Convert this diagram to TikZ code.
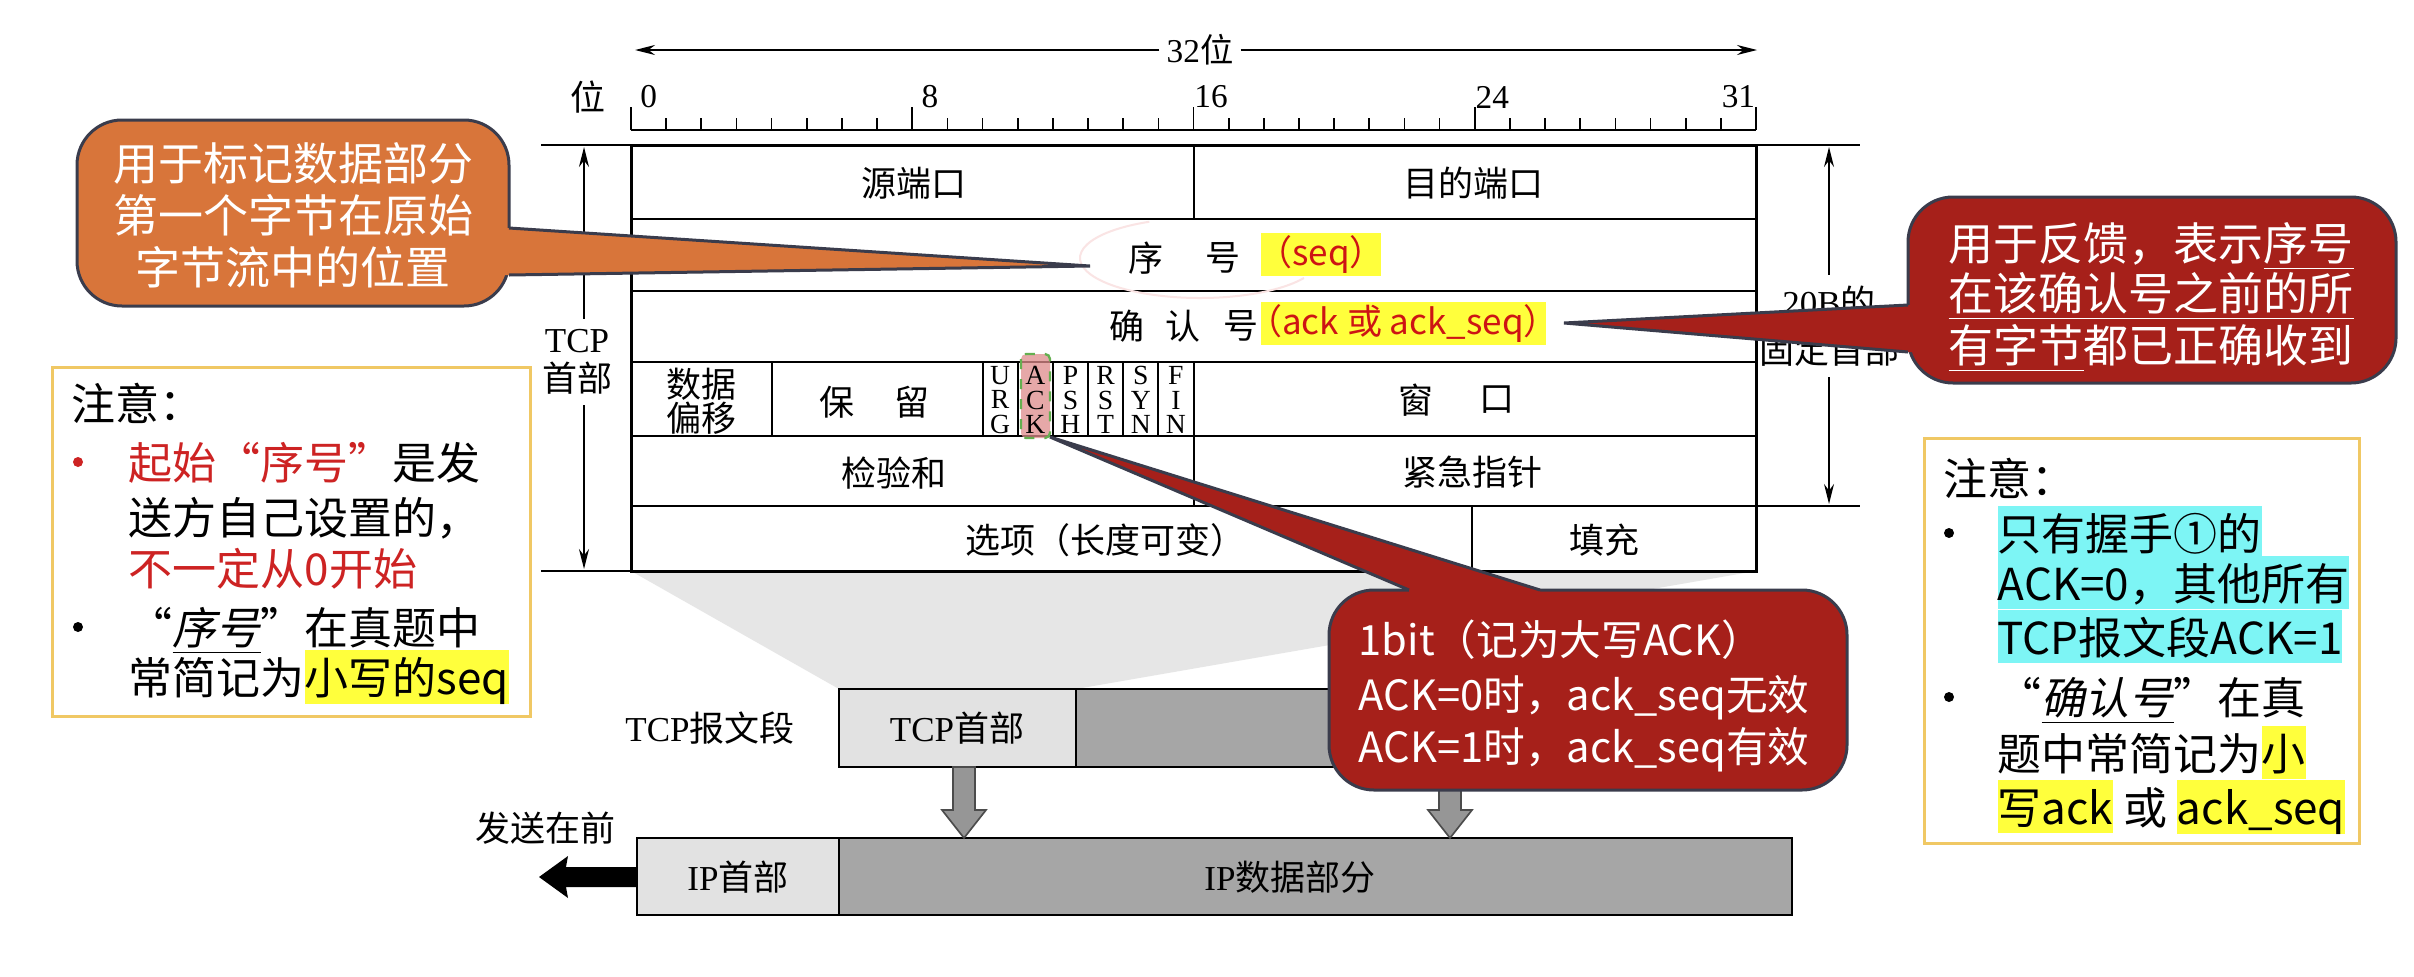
\documentclass[tikz,border=0pt]{standalone}
\usepackage{fontspec}
\setmainfont{Liberation Serif}
\newfontfamily\cjk{Noto Sans CJK SC}
\newfontfamily\cjkit{Noto Sans CJK SC}[FakeSlant=0.2]
\usetikzlibrary{arrows.meta}
\definecolor{calor}{RGB}{216,117,58}
\definecolor{calred}{RGB}{166,32,26}
\definecolor{calbd}{RGB}{58,60,76}
\definecolor{notered}{RGB}{205,35,35}
\definecolor{hly}{RGB}{255,255,60}
\definecolor{hlc}{RGB}{125,245,245}
\definecolor{notebd}{RGB}{240,200,100}
\definecolor{lightg}{RGB}{230,230,230}
\definecolor{boxlg}{RGB}{226,226,226}
\definecolor{midg}{RGB}{166,166,166}
\definecolor{arrg}{RGB}{150,150,150}
\definecolor{seqred}{RGB}{205,20,20}
\definecolor{ackfill}{RGB}{222,140,140}
\definecolor{ackdash}{RGB}{100,175,80}
\definecolor{faintpink}{RGB}{250,228,228}
\newcommand\hstrut{\rule[-2.8pt]{0pt}{16.1pt}}
\newcommand\hlY[1]{{\setlength{\fboxsep}{0pt}\colorbox{hly}{\hstrut #1}}}
\newcommand\hlC[1]{{\setlength{\fboxsep}{0pt}\colorbox{hlc}{\hstrut #1}}}
\newcommand\fq[1]{{\addfontfeatures{RawFeature=+fwid}#1}}
\tikzset{
  tcj/.style={font=\cjk\fontsize{10.5}{12}\selectfont, inner sep=0pt},
  tser/.style={font=\fontsize{10}{12}\selectfont, inner sep=0pt},
  flagtxt/.style={font=\fontsize{8.3}{7.3}\selectfont, align=center, inner sep=0pt},
  dimarrow/.style={-{Stealth[length=6pt,width=3pt]}, line width=0.5pt},
  thin line/.style={line width=0.6pt},
  outer line/.style={line width=0.9pt},
  nt/.style={font=\cjk\fontsize{13.2}{16.5}\selectfont, anchor=base west, inner sep=0pt},
  ct/.style={font=\cjk\fontsize{13.5}{15.5}\selectfont, text=white, inner sep=0pt},
  ctb/.style={font=\cjk\fontsize{12.5}{15}\selectfont, text=white, inner sep=0pt, anchor=base west},
  callbd/.style={draw=calbd, line width=0.9pt},
  notebox/.style={draw=notebd, line width=0.9pt, fill=white},
  bigdown/.style={fill=arrg, draw=black!70, line width=0.5pt},
  pktbox/.style={draw=black, line width=0.8pt},
}
\begin{document}
\begin{tikzpicture}[x=0.3pt,y=-0.3pt]
\useasboundingbox (0,0) rectangle (2414,976);
\fill[white] (0,0) rectangle (2414,976);

% projection wedge
\fill[lightg] (631,571) -- (1756,571) -- (1076,689) -- (839,689) -- cycle;

% 32 bit arrow
\node[tser, inner sep=2pt] (w32) at (1200,50) {32{\cjk 位}};
\coordinate (aL) at (635,50);
\coordinate (aR) at (1757,50);
\draw[dimarrow] (w32.west) -- (aL);
\draw[dimarrow] (w32.east) -- (aR);

% ruler
\node[tcj] (wei) at (588,97) {位};
\foreach \i/\lab in {0/0,8/8,16/16,24/24,31/31}
  \node[tser] (r\i) at ({631+(\i+0.5)*35.156},97) {\lab};
\draw[thin line] (631,130) -- (1756,130);
\foreach \i in {0,...,32}
  \draw[line width=0.5pt] ({631+\i*35.156},130) -- ({631+\i*35.156},118);
\foreach \i in {0,8,16,24,32}
  \draw[line width=0.5pt] ({631+\i*35.156},130) -- ({631+\i*35.156},107);

% table
\foreach \y in {219,291,362,436,506}
  \draw[thin line] (631,\y) -- (1756,\y);
\draw[thin line] (1193.5,145) -- (1193.5,219);
\draw[thin line] (1193.5,362) -- (1193.5,506);
\foreach \i in {4,10,11,12,13,14,15}
  \draw[thin line] ({631+\i*35.156},362) -- ({631+\i*35.156},436);
\draw[thin line] (1472.2,506) -- (1472.2,571);
\draw[outer line] (631,145) rectangle (1756,571);

% ACK highlight
\fill[ackfill, opacity=0.75, rounded corners=1.5pt] (1021,354) rectangle (1050,438);
\draw[ackdash, dashed, line width=0.7pt, rounded corners=1.5pt] (1021,354) rectangle (1050,438);

% faint mark
\draw[faintpink, line width=0.6pt] (1200,258) ++({120*cos(245)},{40*sin(245)}) arc[start angle=245, end angle=30, x radius=120, y radius=40];

% table texts
\node[tcj] (src) at (914,183) {源端口};
\node[tcj] (dst) at (1473,183) {目的端口};
\node[tcj] (xu) at (1146,258) {序};
\node[tcj] (hao1) at (1223,258) {号};
\fill[hly] (1261,233) rectangle (1381,276);
\node[tcj, text=seqred] (seqt) at (1321,255) {（seq）};
\node[tcj] (que) at (1127,326) {确};
\node[tcj] (ren) at (1183,326) {认};
\node[tcj] (hao2) at (1241,326) {号};
\fill[hly] (1261,302) rectangle (1546,345);
\node[tcj, text=seqred] (ackt) at (1403,324) {（ack 或 ack\_seq）};
\node[tcj, font=\cjk\fontsize{10.5}{10.2}\selectfont, align=center] (off) at (701,401) {数据\\偏移};
\node[tcj] (res1) at (837,402) {保};
\node[tcj] (res2) at (912,402) {留};
\foreach \i/\t/\n in {10/U\\R\\G/urg,11/A\\C\\K/ack,12/P\\S\\H/psh,13/R\\S\\T/rst,14/S\\Y\\N/syn,15/F\\I\\N/fin}
  \node[flagtxt] (\n) at ({631+(\i+0.5)*35.156},400) {\t};
\node[tcj] (win1) at (1416,400) {窗};
\node[tcj] (win2) at (1497,400) {口};
\node[tcj] (chk) at (894,473) {检验和};
\node[tcj] (urgp) at (1472,472) {紧急指针};
\node[tcj] (opt) at (1105,540) {选项（长度可变）};
\node[tcj] (pad) at (1604,540) {填充};

% dimension lines
\draw[line width=0.5pt] (541,145) -- (631,145);
\draw[line width=0.5pt] (541,571) -- (631,571);
\draw[line width=0.5pt] (1756,145) -- (1860,145);
\draw[line width=0.5pt] (1756,506) -- (1860,506);
\coordinate (lt) at (584,147);
\coordinate (lb) at (584,569);
\node[tser, font=\fontsize{10.5}{11.8}\selectfont, align=center, inner sep=3pt] (tcph) at (577,362) {TCP\\{\cjk 首部}};
\draw[dimarrow] (tcph.north -| lt) -- (lt);
\draw[dimarrow] (tcph.south -| lb) -- (lb);
\coordinate (rt) at (1829,147);
\coordinate (rb) at (1829,504);
\node[tser, font=\fontsize{10.5}{14.5}\selectfont, align=center, inner sep=3pt] (fixh) at (1829,326) {20B{\cjk 的}\\{\cjk 固定首部}};
\draw[dimarrow] (fixh.north -| rt) -- (rt);
\draw[dimarrow] (fixh.south -| rb) -- (rb);

% TCP segment and IP datagram
\node[tser, font=\fontsize{10.5}{12}\selectfont] (tcpseg) at (710,728) {TCP{\cjk 报文段}};
\draw[pktbox, fill=boxlg] (839,689) rectangle (1076,767);
\draw[pktbox, fill=midg] (1076,689) rectangle (1792,767);
\node[tser, font=\fontsize{10.5}{12}\selectfont] (tcphd) at (957,728) {TCP{\cjk 首部}};
\draw[pktbox, fill=boxlg] (637,838) rectangle (839,915);
\draw[pktbox, fill=midg] (839,838) rectangle (1792,915);
\node[tser, font=\fontsize{10.5}{12}\selectfont] (iphd) at (738,877) {IP{\cjk 首部}};
\node[tser, font=\fontsize{10.5}{12}\selectfont] (ipdata) at (1290,877) {IP{\cjk 数据部分}};
\node[tcj] (sendfirst) at (545,828) {发送在前};
\coordinate (d1b) at (964,838);
\coordinate (d2b) at (1450,838);
\draw[bigdown] (953,767) -- ++(0,43) -- ++(-11,0) -- (d1b) -- ++(22,-28) -- ++(-11,0) -- ++(0,-43) -- cycle;
\draw[bigdown] (1439,767) -- ++(0,43) -- ++(-11,0) -- (d2b) -- ++(22,-28) -- ++(-11,0) -- ++(0,-43) -- cycle;
\coordinate (sndtip) at (539,877);
\fill[black] (637,867) -- (566,867) -- (568,856) -- (sndtip) -- (568,898) -- (566,887) -- (637,887) -- cycle;

% note boxes
\draw[notebox] (52,367) rectangle (530,716);
\node[nt] (n1a) at (71,420) {注意：};
\fill[notered] (78,462) circle (1.5pt);
\node[nt] (n1b) at (128,479) {\textcolor{notered}{起始\fq{“}序号\fq{”}}是发};
\node[nt] (n1c) at (128,534) {送方自己设置的，};
\node[nt] (n1d) at (128,585) {\textcolor{notered}{不一定从0开始}};
\fill[black] (78,627) circle (1.5pt);
\node[nt] (n1e) at (128,644) {\fq{“}\underline{{\cjkit 序号}}\fq{”}在真题中};
\node[nt] (n1f) at (128,694) {常简记为\hlY{小写的seq}};

\draw[notebox] (1924,438) rectangle (2359,843);
\node[nt] (n2a) at (1943,495) {注意：};
\fill[black] (1949,533) circle (1.5pt);
\node[nt] (n2b) at (1997,550) {\hlC{只有\underline{握手①}的}};
\node[nt] (n2c) at (1997,600) {\hlC{ACK=0，其他所有}};
\node[nt] (n2d) at (1997,654) {\hlC{TCP报文段ACK=1}};
\fill[black] (1949,697) circle (1.5pt);
\node[nt] (n2e) at (1997,714) {\fq{“}\underline{{\cjkit 确认号}}\fq{”}在真};
\node[nt] (n2f) at (1997,770) {题中常简记为\hlY{小}};
\node[nt] (n2g) at (1997,824) {\hlY{写ack} 或 \hlY{ack\_seq}};

% orange callout
\coordinate (otip) at (1090,266);
\draw[callbd, fill=calor, rounded corners=13.5pt] (77,120) rectangle (509,306);
\fill[calor] (495,228) -- (509,228) -- (otip) -- (509,275) -- (495,275) -- cycle;
\draw[callbd] (509,228) -- (otip) -- (509,275);
\node[ct, anchor=base] (o1) at (293,180) {用于标记数据部分};
\node[ct, anchor=base] (o2) at (293,232) {第一个字节在原始};
\node[ct, anchor=base] (o3) at (293,284) {字节流中的位置};

% right red callout
\coordinate (rtip) at (1564,323);
\draw[callbd, fill=calred, rounded corners=13.5pt] (1908,197) rectangle (2396,383);
\fill[calred] (1922,305) -- (1908,305) -- (rtip) -- (1908,352) -- (1922,352) -- cycle;
\draw[callbd] (1908,305) -- (rtip) -- (1908,352);
\node[ct, anchor=base west] (r1) at (1948,260) {用于反馈，表示\underline{序号}};
\node[ct, anchor=base west] (r2) at (1948,310) {\underline{在该确认号之前的所}};
\node[ct, anchor=base west] (r3) at (1948,362) {\underline{有字节}都已正确收到};

% bottom red callout
\coordinate (btip) at (1050,437);
\draw[callbd, fill=calred, rounded corners=13.5pt] (1329,590) rectangle (1847,790);
\fill[calred] (1409,604) -- (1409,590) -- (btip) -- (1540,590) -- (1540,604) -- cycle;
\draw[callbd] (1409,590) -- (btip) -- (1540,590);
\node[ctb] (b1) at (1358,655) {1bit（记为大写ACK）};
\node[ctb] (b2) at (1358,710) {ACK=0时，ack\_seq无效};
\node[ctb] (b3) at (1358,762) {ACK=1时，ack\_seq有效};
\end{tikzpicture}
\end{document}
